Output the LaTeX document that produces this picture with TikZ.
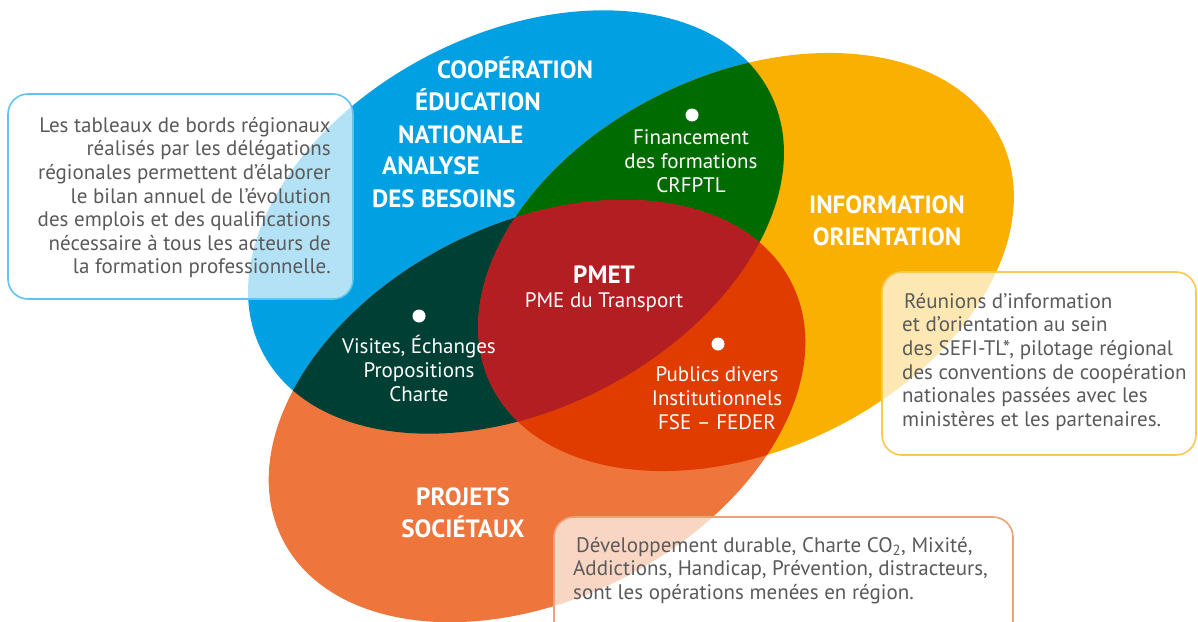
\documentclass[tikz,border=0pt]{standalone}
\usepackage{fontspec}
\setmainfont{PT Sans}
\definecolor{cblue}{RGB}{0,160,227}
\definecolor{cyel}{RGB}{249,176,0}
\definecolor{corg}{RGB}{238,117,60}
\definecolor{cgreen}{RGB}{0,107,0}
\definecolor{cteal}{RGB}{0,64,52}
\definecolor{cred}{RGB}{224,60,0}
\definecolor{cdark}{RGB}{178,30,34}
\definecolor{cgray}{RGB}{90,90,90}
\definecolor{bblue}{RGB}{100,195,236}
\definecolor{byel}{RGB}{250,200,80}
\definecolor{borg}{RGB}{243,160,120}
\newcommand\EllB{(516,222) ellipse [x radius=285, y radius=188]}
\newcommand\EllY{(746,262) ellipse [x radius=283, y radius=188]}
\newcommand\EllO{(537,411) ellipse [x radius=285, y radius=188]}
\tikzset{
  rotB/.style={rotate around={27:(516,222)}},
  rotY/.style={rotate around={25.6:(746,262)}},
  rotO/.style={rotate around={26.7:(537,411)}},
  infobox/.style={line width=1.6pt, rounded corners=20pt, fill=white, fill opacity=0.7},
  body/.style={font=\fontsize{21}{23.6}\selectfont, text=cgray, inner sep=0pt},
  wtxt/.style={font=\fontsize{21}{24}\selectfont, text=white, inner sep=0pt, align=center},
  ttl/.style={font=\bfseries\fontsize{25}{32}\selectfont, text=white, inner sep=0pt},
  wdot/.style={circle, fill=white, minimum size=13pt, inner sep=0pt},
}
\begin{document}
\begin{tikzpicture}[x=1pt,y=-1pt]
\useasboundingbox (0,0) rectangle (1198,621);
% three ellipses
\fill[cblue,rotB] \EllB;
\fill[cyel,rotY] \EllY;
\fill[corg,rotO] \EllO;
% pairwise intersections
\begin{scope}
  \clip[rotB] \EllB;
  \fill[cgreen,rotY] \EllY;
\end{scope}
\begin{scope}
  \clip[rotB] \EllB;
  \fill[cteal,rotO] \EllO;
\end{scope}
\begin{scope}
  \clip[rotY] \EllY;
  \fill[cred,rotO] \EllO;
\end{scope}
% triple intersection
\begin{scope}
  \clip[rotB] \EllB;
  \clip[rotY] \EllY;
  \fill[cdark,rotO] \EllO;
\end{scope}

% info boxes
\draw[infobox, draw=bblue] (8,94) rectangle (353,299);
\draw[infobox, draw=byel] (882,272) rectangle (1196,455);
\draw[infobox, draw=borg] (554,517) rectangle (1013,650);

\node[body, anchor=north east, align=right] (box1) at (331,117) {Les tableaux de bords régionaux\\réalisés par les délégations\\régionales permettent d’élaborer\\le bilan annuel de l’évolution\\des emplois et des qualifications\\nécessaire à tous les acteurs de\\la formation professionnelle.};
\node[body, anchor=north west, align=left] (box2) at (902,293) {\hspace{2pt}Réunions d’information\\et d’orientation au sein\\des SEFI-TL*, pilotage régional\\des conventions de coopération\\nationales passées avec les\\ministères et les partenaires.};
\node[body, anchor=north west, align=left] (box3) at (573,537) {\hspace{3pt}Développement durable, Charte CO\textsubscript{2}, Mixité,\\Addictions, Handicap, Prévention, distracteurs,\\sont les opérations menées en région.};

% titles
\node[ttl, anchor=base west] (t1) at (437,78) {COOPÉRATION};
\node[ttl, anchor=base west] (t2) at (415,110) {ÉDUCATION};
\node[ttl, anchor=base west] (t3) at (398,143) {NATIONALE};
\node[ttl, anchor=base west] (t4) at (382,174) {ANALYSE};
\node[ttl, anchor=base west] (t5) at (372,207) {DES BESOINS};
\node[ttl, anchor=base] (t6) at (887,213) {INFORMATION};
\node[ttl, anchor=base] (t7) at (887,245) {ORIENTATION};
\node[ttl, anchor=base] (t8) at (463,505) {PROJETS};
\node[ttl, anchor=base] (t9) at (463,537) {SOCIÉTAUX};
\node[ttl, anchor=base] (pmet) at (604,283) {PMET};
\node[wtxt, anchor=base] (pmesub) at (604,307) {PME du Transport};

% dots and labels
\node[wdot] (d1) at (692,115) {};
\node[wdot] (d2) at (419,316) {};
\node[wdot] (d3) at (718,344) {};
\node[wtxt, anchor=north] (l1) at (691,129) {Financement\\des formations\\CRFPTL};
\node[wtxt, anchor=north] (l2) at (419,335) {Visites, Échanges\\Propositions\\Charte};
\node[wtxt, anchor=north] (l3) at (717,366) {Publics divers\\Institutionnels\\FSE – FEDER};
\end{tikzpicture}
\end{document}
